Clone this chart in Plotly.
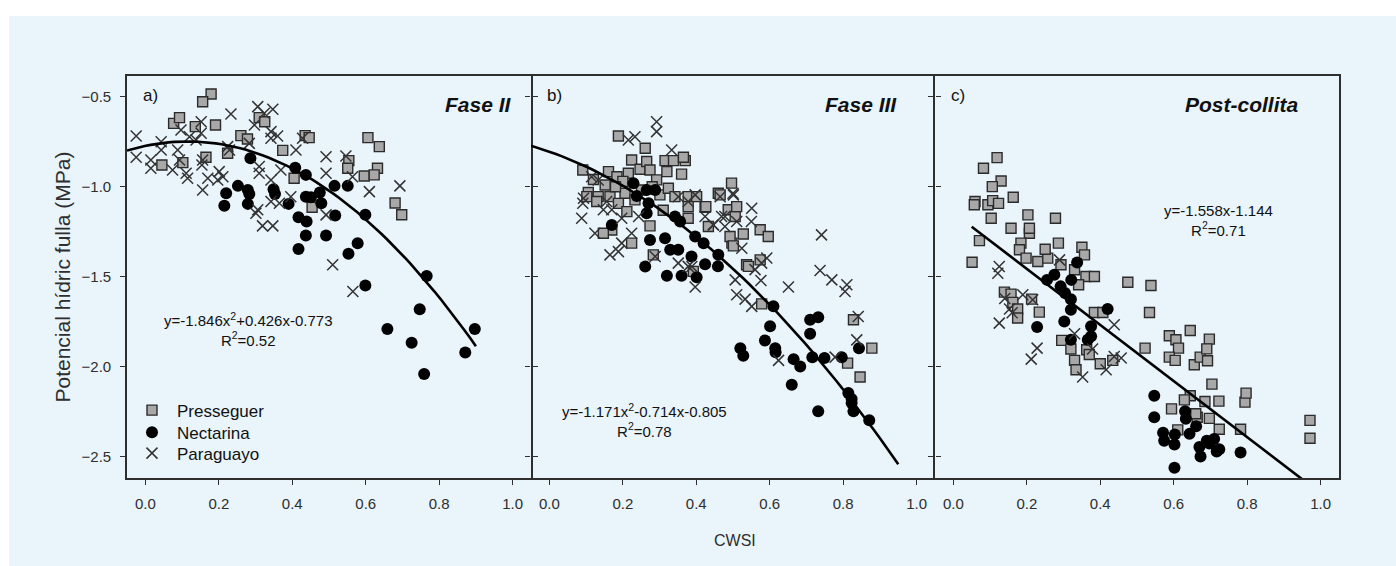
import plotly.graph_objects as go

# ---------------- data (CWSI, leaf water potential MPa) ----------------
# Panel a) Fase II
a_presseguer = [(0.179,-0.485),(0.156,-0.528),(0.077,-0.648),(0.093,-0.616),(0.136,-0.666),(0.191,-0.657),
    (0.26,-0.716),(0.278,-0.735),(0.31,-0.616),(0.325,-0.639),(0.165,-0.836),(0.045,-0.879),(0.102,-0.866),
    (0.224,-0.814),(0.374,-0.798),(0.405,-0.953),(0.435,-0.716),(0.446,-0.727),(0.454,-1.114),(0.554,-0.855),
    (0.551,-0.897),(0.606,-0.727),(0.637,-0.777),(0.632,-0.897),(0.596,-0.94),(0.623,-0.934),(0.68,-1.09),(0.698,-1.155)]
a_nectarina = [(0.286,-0.842),(0.22,-1.036),(0.215,-1.106),(0.252,-0.995),(0.279,-1.018),(0.283,-1.04),(0.279,-1.095),
    (0.349,-1.014),(0.353,-1.04),(0.39,-1.095),(0.408,-0.894),(0.437,-0.934),(0.437,-1.055),(0.451,-1.058),(0.475,-1.032),
    (0.479,-1.091),(0.417,-1.169),(0.439,-1.193),(0.437,-1.271),(0.417,-1.345),(0.492,-1.271),(0.515,-0.995),(0.517,-1.16),
    (0.551,-0.995),(0.578,-1.313),(0.553,-1.372),(0.599,-1.156),(0.599,-1.548),(0.659,-1.79),(0.766,-1.495),(0.725,-1.866),
    (0.747,-1.68),(0.759,-2.04),(0.871,-1.92),(0.897,-1.79)]
a_paraguayo = [(-0.025,-0.718),(-0.025,-0.836),(0.015,-0.851),(0.015,-0.897),(0.043,-0.75),(0.043,-0.796),(0.074,-0.907),
    (0.088,-0.796),(0.093,-0.851),(0.111,-0.925),(0.115,-0.953),(0.097,-0.685),(0.12,-0.722),(0.152,-0.639),(0.152,-0.703),
    (0.138,-0.74),(0.156,-0.851),(0.154,-0.879),(0.17,-0.953),(0.156,-1.018),(0.233,-0.596),(0.224,-0.777),(0.229,-0.796),
    (0.201,-0.916),(0.211,-0.944),(0.197,-0.962),(0.306,-0.555),(0.347,-0.57),(0.324,-0.592),(0.297,-0.657),(0.342,-0.694),
    (0.342,-0.731),(0.36,-0.718),(0.283,-0.759),(0.31,-0.888),(0.31,-0.925),(0.342,-0.962),(0.369,-0.907),(0.396,-1.055),
    (0.342,-1.082),(0.365,-1.092),(0.306,-1.128),(0.301,-1.147),(0.319,-1.217),(0.347,-1.217),(0.41,-0.796),(0.428,-0.731),
    (0.492,-0.833),(0.492,-0.925),(0.546,-0.829),(0.564,-0.944),(0.61,-1.027),(0.492,-1.156),(0.51,-1.433),(0.565,-1.581),
    (0.693,-0.995)]

# Panel b) Fase III
b_presseguer = [(0.188,-0.718),(0.261,-0.786),(0.091,-0.907),(0.224,-0.851),(0.247,-0.903),(0.265,-0.86),(0.315,-0.855),
    (0.338,-0.855),(0.37,-0.855),(0.365,-0.836),(0.161,-0.916),(0.184,-0.944),(0.215,-0.925),(0.274,-0.907),(0.292,-0.962),
    (0.32,-0.916),(0.106,-1.032),(0.133,-1.055),(0.102,-1.055),(0.165,-1.055),(0.188,-1.092),(0.152,-0.99),(0.206,-1.036),
    (0.211,-1.138),(0.251,-1.018),(0.301,-1.045),(0.324,-1.008),(0.342,-1.055),(0.378,-1.055),(0.401,-1.055),(0.378,-1.11),
    (0.424,-1.114),(0.378,-1.175),(0.46,-1.036),(0.496,-0.98),(0.487,-1.128),(0.433,-1.221),(0.17,-1.24),(0.147,-1.258),
    (0.274,-1.217),(0.224,-1.313),(0.283,-1.378),(0.506,-1.165),(0.497,-1.313),(0.233,-1.073),(0.129,-1.082),(0.465,-1.045),
    (0.426,-1.11),(0.51,-1.11),(0.492,-1.276),(0.528,-1.262),(0.501,-1.328),(0.574,-1.239),(0.596,-1.276),(0.537,-1.433),
    (0.574,-1.406),(0.828,-1.738),(0.878,-1.896),(0.812,-1.979),(0.846,-2.056),(0.578,-1.65),(0.542,-1.442),(0.392,-1.47),
    (0.12,-0.96),(0.2,-0.97),(0.28,-1.0),(0.31,-1.13),(0.36,-0.93),(0.18,-1.0)]
b_nectarina = [(0.229,-0.98),(0.238,-1.051),(0.265,-1.018),(0.288,-1.018),(0.27,-1.092),(0.265,-1.147),(0.17,-1.212),
    (0.274,-1.295),(0.315,-1.286),(0.329,-1.35),(0.351,-1.35),(0.342,-1.165),(0.356,-1.193),(0.397,-1.276),(0.42,-1.313),
    (0.46,-1.378),(0.424,-1.43),(0.261,-1.443),(0.387,-1.387),(0.32,-1.494),(0.36,-1.494),(0.401,-1.502),(0.459,-1.442),
    (0.61,-1.664),(0.601,-1.775),(0.587,-1.853),(0.615,-1.896),(0.616,-1.919),(0.52,-1.896),(0.528,-1.938),(0.665,-1.957),
    (0.683,-1.998),(0.66,-2.099),(0.71,-1.738),(0.732,-1.725),(0.71,-1.816),(0.716,-1.946),(0.749,-1.951),(0.732,-2.247),
    (0.796,-1.946),(0.843,-1.896),(0.814,-2.145),(0.823,-2.178),(0.828,-2.247),(0.823,-2.2),(0.871,-2.296)]
b_paraguayo = [(0.292,-0.639),(0.292,-0.694),(0.215,-0.74),(0.233,-0.722),(0.333,-0.796),(0.115,-0.944),(0.133,-0.962),
    (0.093,-1.064),(0.091,-1.092),(0.088,-1.175),(0.147,-1.128),(0.124,-1.258),(0.197,-1.175),(0.224,-1.258),(0.197,-1.313),
    (0.188,-1.36),(0.165,-1.378),(0.156,-1.082),(0.17,-1.128),(0.243,-1.165),(0.288,-1.387),(0.351,-1.055),(0.378,-1.082),
    (0.397,-1.045),(0.424,-1.165),(0.447,-1.212),(0.469,-1.165),(0.478,-1.221),(0.465,-1.055),(0.501,-1.045),(0.51,-1.193),
    (0.388,-1.443),(0.351,-1.424),(0.551,-1.119),(0.55,-1.193),(0.741,-1.267),(0.5,-1.036),(0.478,-1.165),(0.446,-1.211),
    (0.524,-1.341),(0.592,-1.396),(0.737,-1.465),(0.769,-1.517),(0.81,-1.544),(0.805,-1.581),(0.841,-1.72),(0.837,-1.85),
    (0.778,-1.946),(0.651,-1.557),(0.624,-1.964),(0.506,-1.517),(0.51,-1.6),(0.533,-1.624),(0.551,-1.664),(0.576,-1.52),
    (0.56,-1.46),(0.397,-1.557),(0.378,-1.442),(0.578,-1.424)]

# Panel c) Post-collita
c_presseguer = [(0.119,-0.838),(0.082,-0.897),(0.13,-0.968),(0.106,-0.999),(0.163,-1.058),(0.059,-1.082),(0.057,-1.1),
    (0.094,-1.1),(0.107,-1.077),(0.123,-1.092),(0.103,-1.175),(0.203,-1.156),(0.278,-1.175),(0.157,-1.23),(0.207,-1.258),
    (0.207,-1.23),(0.071,-1.299),(0.184,-1.313),(0.18,-1.35),(0.198,-1.396),(0.23,-1.415),(0.257,-1.396),(0.25,-1.347),
    (0.286,-1.313),(0.35,-1.336),(0.357,-1.378),(0.051,-1.419),(0.293,-1.433),(0.33,-1.461),(0.361,-1.498),(0.384,-1.498),
    (0.341,-1.544),(0.475,-1.53),(0.538,-1.548),(0.139,-1.585),(0.157,-1.596),(0.162,-1.642),(0.175,-1.679),(0.175,-1.729),
    (0.213,-1.624),(0.234,-1.696),(0.534,-1.698),(0.384,-1.698),(0.407,-1.698),(0.295,-1.853),(0.32,-1.901),(0.33,-1.964),
    (0.334,-2.016),(0.363,-1.905),(0.37,-1.931),(0.40,-1.983),(0.434,-1.964),(0.522,-1.896),(0.588,-1.827),(0.606,-1.849),
    (0.613,-1.896),(0.588,-1.946),(0.604,-1.964),(0.645,-1.798),(0.656,-1.988),(0.672,-1.946),(0.645,-2.16),(0.629,-2.183),
    (0.594,-2.233),(0.611,-2.35),(0.664,-2.28),(0.692,-1.966),(0.697,-1.846),(0.69,-1.9),(0.704,-2.096),(0.794,-2.196),
    (0.797,-2.146),(0.782,-2.346),(0.724,-2.346),(0.971,-2.297),(0.971,-2.396),(0.685,-2.192),(0.723,-2.19),(0.697,-2.286),
    (0.66,-2.26)]
c_nectarina = [(0.337,-1.42),(0.321,-1.517),(0.275,-1.489),(0.255,-1.517),(0.292,-1.553),(0.304,-1.59),(0.32,-1.624),
    (0.32,-1.683),(0.302,-1.748),(0.228,-1.779),(0.375,-1.775),(0.375,-1.83),(0.366,-1.849),(0.32,-1.849),(0.42,-1.679),
    (0.547,-2.16),(0.547,-2.28),(0.633,-2.288),(0.643,-2.372),(0.574,-2.41),(0.602,-2.431),(0.602,-2.56),(0.67,-2.445),
    (0.697,-2.426),(0.71,-2.4),(0.724,-2.457),(0.717,-2.47),(0.673,-2.497),(0.782,-2.476),(0.69,-2.41),(0.661,-2.33),
    (0.631,-2.246),(0.603,-2.376),(0.571,-2.366)]
c_paraguayo = [(0.125,-1.443),(0.121,-1.48),(0.289,-1.406),(0.189,-1.6),(0.216,-1.627),(0.153,-1.679),(0.125,-1.757),
    (0.228,-1.896),(0.212,-1.957),(0.33,-1.816),(0.379,-1.901),(0.352,-2.056),(0.416,-2.016),(0.438,-1.942),(0.457,-1.951),
    (0.438,-1.766),(0.14,-1.62),(0.16,-1.7)]

# fitted regressions: coefficients (a2, a1, a0) and the x-span of each drawn curve
fit_coefs = [(-1.846, 0.426, -0.773), (-1.171, -0.714, -0.805), (0.0, -1.558, -1.144)]
fit_spans = [(-0.05, 0.90), (-0.05, 0.95), (0.05, 0.96)]
fit_texts = ["y=-1.846x<sup>2</sup>+0.426x-0.773<br>R<sup>2</sup>=0.52",
             "y=-1.171x<sup>2</sup>-0.714x-0.805<br>R<sup>2</sup>=0.78",
             "y=-1.558x-1.144<br>R<sup>2</sup>=0.71"]
fit_text_pos = [(0.28, -1.79), (0.258, -2.30), (0.723, -1.19)]
panel_titles = ["Fase II", "Fase III", "Post-collita"]
title_pos = [1.003, 0.951, 0.947]
panel_letters = ["a)", "b)", "c)"]
series_names = ["Presseguer", "Nectarina", "Paraguayo"]
x_ticks = [0.0, 0.2, 0.4, 0.6, 0.8, 1.0]
y_ticks = [-0.5, -1.0, -1.5, -2.0, -2.5]

panels = [(a_presseguer, a_nectarina, a_paraguayo),
          (b_presseguer, b_nectarina, b_paraguayo),
          (c_presseguer, c_nectarina, c_paraguayo)]

FONT = "Liberation Sans, Arial, sans-serif"
INK = "#2e2e2e"
BG = "#e9f4fb"

styles = [
    dict(symbol="square", size=10, color="#a8a8a8", line=dict(color="#2b2b2b", width=1.4)),
    dict(symbol="circle", size=12, color="#000000", line=dict(width=0)),
    dict(symbol="x-thin-open", size=11, color="#333333", line=dict(color="#333333", width=1.5)),
]
legend_ids = ["legend", "legend2", "legend3"]

fig = go.Figure()
for i, series in enumerate(panels):
    xa = "x" if i == 0 else f"x{i+1}"
    ya = "y" if i == 0 else f"y{i+1}"
    for j, pts in enumerate(series):
        fig.add_trace(go.Scatter(
            x=[p[0] for p in pts], y=[p[1] for p in pts], mode="markers",
            name=series_names[j], marker=styles[j], xaxis=xa, yaxis=ya,
            showlegend=(i == 0), legend=legend_ids[j], cliponaxis=True))
    a2, a1, a0 = fit_coefs[i]
    x0, x1 = fit_spans[i]
    n = 60
    xs = [x0 + (x1 - x0) * k / (n - 1) for k in range(n)]
    ys = [a2 * x * x + a1 * x + a0 for x in xs]
    fig.add_trace(go.Scatter(x=xs, y=ys, mode="lines", line=dict(color="#000", width=2.6),
                             xaxis=xa, yaxis=ya, showlegend=False, hoverinfo="skip"))

doms = [[0, 1/3], [1/3, 2/3], [2/3, 1]]
y_showline = [True, False, True]
y_mirror = ["ticks", "ticks", True]
for i in range(3):
    sfx = "" if i == 0 else str(i + 1)
    fig.update_layout(**{
        f"xaxis{sfx}": dict(domain=doms[i], range=[-0.05, 1.05], tickvals=x_ticks, tickformat=".1f",
                           ticks="outside", ticklen=5, tickwidth=1.4, tickcolor=INK,
                           showline=True, linecolor=INK, linewidth=1.6, mirror=True,
                           showgrid=False, zeroline=False, anchor=f"y{sfx}",
                           tickfont=dict(family=FONT, size=15, color=INK), ticklabelstandoff=6),
        f"yaxis{sfx}": dict(range=[-2.617, -0.385], tickvals=y_ticks, tickformat=".1f",
                           ticks="outside", ticklen=5, tickwidth=1.4, tickcolor=INK,
                           showline=y_showline[i], linecolor=INK, linewidth=1.6, mirror=y_mirror[i],
                           showgrid=False, zeroline=False, anchor=f"x{sfx}",
                           showticklabels=(i == 0), ticklabelstandoff=6,
                           tickfont=dict(family=FONT, size=15, color=INK)),
    })

annotations = []
for i in range(3):
    sfx = "" if i == 0 else str(i + 1)
    annotations.append(dict(x=title_pos[i], y=-0.545, xref=f"x{sfx}", yref=f"y{sfx}",
                            text=f"<b><i>{panel_titles[i]}</i></b>", showarrow=False,
                            xanchor="right", yanchor="middle",
                            font=dict(family=FONT, size=21, color="#111")))
    annotations.append(dict(x=-0.012, y=-0.496, xref=f"x{sfx}", yref=f"y{sfx}",
                            text=panel_letters[i], showarrow=False, xanchor="left", yanchor="middle",
                            font=dict(family=FONT, size=17, color="#111")))
    annotations.append(dict(x=fit_text_pos[i][0], y=fit_text_pos[i][1], xref=f"x{sfx}", yref=f"y{sfx}",
                            text=fit_texts[i], showarrow=False, xanchor="center", yanchor="middle",
                            align="center", font=dict(family=FONT, size=15, color="#111")))
annotations.append(dict(x=0.502, y=-0.155, xref="paper", yref="paper", text="CWSI", showarrow=False,
                        xanchor="center", yanchor="middle", font=dict(family=FONT, size=16, color=INK)))
annotations.append(dict(x=-0.054, y=0.5, xref="paper", yref="paper", text="Potencial hídric fulla (MPa)",
                        showarrow=False, textangle=-90, xanchor="center", yanchor="middle",
                        font=dict(family=FONT, size=21, color=INK)))

legend_common = dict(x=0.0, xanchor="left", yanchor="top", bgcolor="rgba(0,0,0,0)",
                     itemwidth=40, font=dict(family=FONT, size=17, color="#111"))
legend_tops = [0.2124, 0.1577, 0.1055]

fig.update_layout(
    width=1396, height=566,
    margin=dict(l=127, r=57, t=76, b=88),
    paper_bgcolor="#ffffff", plot_bgcolor="rgba(0,0,0,0)",
    shapes=[dict(type="rect", xref="paper", yref="paper", x0=-0.0974, x1=1.05, y0=-0.22, y1=1.149,
                 fillcolor=BG, line=dict(width=0), layer="below")],
    annotations=annotations,
    showlegend=True,
    legend=dict(y=legend_tops[0], **legend_common),
    legend2=dict(y=legend_tops[1], **legend_common),
    legend3=dict(y=legend_tops[2], **legend_common),
    font=dict(family=FONT),
)

fig.write_html("out.html")
